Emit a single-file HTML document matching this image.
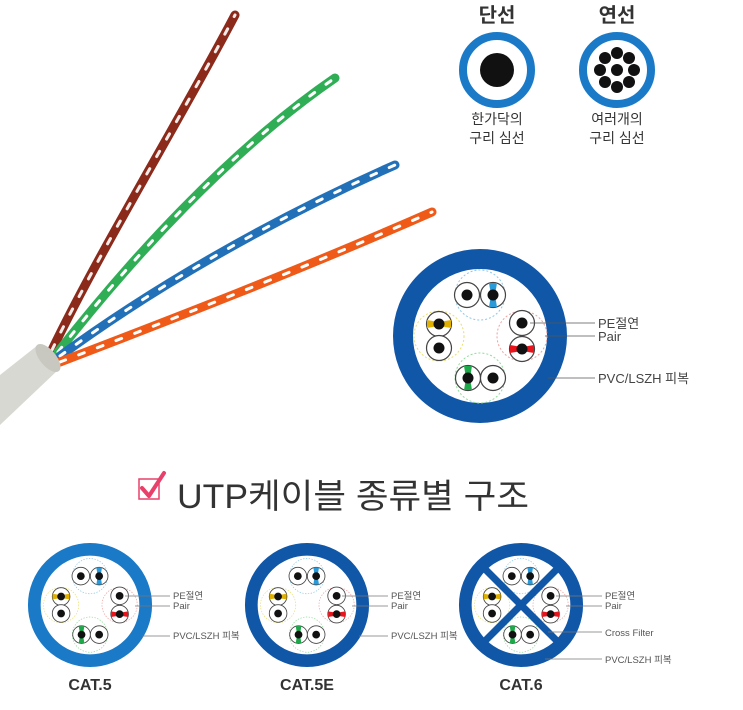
<!DOCTYPE html>
<html><head><meta charset="utf-8"><style>
html,body{margin:0;padding:0;background:#fff;}
svg{display:block;font-family:"Liberation Sans","Noto Sans CJK KR",sans-serif;}
</style></head><body>
<svg width="743" height="710" viewBox="0 0 743 710" xmlns="http://www.w3.org/2000/svg">
<defs>
  <g id="pairs">
    <circle cx="0" cy="-41" r="25" fill="none" stroke="#8cc8ea" stroke-width="1" stroke-dasharray="2,2"/>
    <circle cx="-13" cy="-41" r="12.5" fill="#fff" stroke="#444" stroke-width="1.2"/>
    <circle cx="13" cy="-41" r="12.5" fill="#fff" stroke="#444" stroke-width="1.2"/>
    <path d="M9,-53 L17,-53 L15,-41 L17,-29 L9,-29 L11,-41Z" fill="#2a9ad8"/>
    <circle cx="-13" cy="-41" r="5.5" fill="#111"/>
    <circle cx="13" cy="-41" r="5.5" fill="#111"/>
    <circle cx="-41" cy="0" r="25" fill="none" stroke="#e8df70" stroke-width="1" stroke-dasharray="2,2"/>
    <circle cx="-41" cy="-12" r="12.5" fill="#fff" stroke="#444" stroke-width="1.2"/>
    <circle cx="-41" cy="12" r="12.5" fill="#fff" stroke="#444" stroke-width="1.2"/>
    <path d="M-53,-16 L-41,-14 L-29,-16 L-29,-8 L-41,-10 L-53,-8Z" fill="#e0b000"/>
    <circle cx="-41" cy="-12" r="5.5" fill="#111"/>
    <circle cx="-41" cy="12" r="5.5" fill="#111"/>
    <circle cx="42" cy="0" r="25" fill="none" stroke="#f0a0a0" stroke-width="1" stroke-dasharray="2,2"/>
    <circle cx="42" cy="-13" r="12.5" fill="#fff" stroke="#444" stroke-width="1.2"/>
    <circle cx="42" cy="13" r="12.5" fill="#fff" stroke="#444" stroke-width="1.2"/>
    <path d="M30,9 L42,11 L54,9 L54,17 L42,15 L30,17Z" fill="#e8141c"/>
    <circle cx="42" cy="-13" r="5.5" fill="#111"/>
    <circle cx="42" cy="13" r="5.5" fill="#111"/>
    <circle cx="0" cy="42" r="25" fill="none" stroke="#8fdc9a" stroke-width="1" stroke-dasharray="2,2"/>
    <circle cx="-12" cy="42" r="12.5" fill="#fff" stroke="#444" stroke-width="1.2"/>
    <circle cx="13" cy="42" r="12.5" fill="#fff" stroke="#444" stroke-width="1.2"/>
    <path d="M-16,30 L-8,30 L-10,42 L-8,54 L-16,54 L-14,42Z" fill="#1da84a"/>
    <circle cx="-12" cy="42" r="5.5" fill="#111"/>
    <circle cx="13" cy="42" r="5.5" fill="#111"/>
  </g>
</defs>

<g fill="none" stroke-linecap="round">
  <path d="M52,350 C100,250 180,120 235,15" stroke="#8b2a1a" stroke-width="9"/>
  <path d="M52,350 C100,250 180,120 235,15" stroke="#fff" stroke-width="3" stroke-dasharray="6,14" opacity="0.9"/>
  <path d="M58,352 C130,260 230,150 335,78" stroke="#2fae55" stroke-width="9"/>
  <path d="M58,352 C130,260 230,150 335,78" stroke="#fff" stroke-width="3" stroke-dasharray="6,14"/>
  <path d="M60,356 C150,290 270,220 395,165" stroke="#2271b8" stroke-width="9"/>
  <path d="M60,356 C150,290 270,220 395,165" stroke="#fff" stroke-width="3" stroke-dasharray="6,14"/>
  <path d="M60,362 C170,320 300,270 432,212" stroke="#f05a18" stroke-width="9"/>
  <path d="M60,362 C170,320 300,270 432,212" stroke="#fff" stroke-width="3" stroke-dasharray="6,14"/>
</g>
<path d="M0,375 L38,345 L58,370 L0,425 Z" fill="#d8d8d2"/>
<ellipse cx="48" cy="358" rx="8" ry="17" transform="rotate(-40 48 358)" fill="#c8c8c0"/>

<g fill="#333" text-anchor="middle">
  <text x="497" y="22" font-size="20" font-weight="bold">단선</text>
  <text x="617" y="22" font-size="20" font-weight="bold">연선</text>
  <text x="497" y="124" font-size="14">한가닥의</text>
  <text x="497" y="143" font-size="14">구리 심선</text>
  <text x="617" y="124" font-size="14">여러개의</text>
  <text x="617" y="143" font-size="14">구리 심선</text>
</g>
<circle cx="497" cy="70" r="34" fill="#fff" stroke="#1a7ac7" stroke-width="8"/>
<circle cx="497" cy="70" r="17" fill="#111"/>
<circle cx="617" cy="70" r="34" fill="#fff" stroke="#1a7ac7" stroke-width="8"/>
<g fill="#111">
  <circle cx="617" cy="70" r="6"/>
  <circle cx="617" cy="53" r="6"/><circle cx="617" cy="87" r="6"/>
  <circle cx="600" cy="70" r="6"/><circle cx="634" cy="70" r="6"/>
  <circle cx="605" cy="58" r="6"/><circle cx="629" cy="58" r="6"/>
  <circle cx="605" cy="82" r="6"/><circle cx="629" cy="82" r="6"/>
</g>

<g transform="translate(480,336)">
  <circle r="77" fill="#fff" stroke="#1157a8" stroke-width="20"/>
  <use href="#pairs"/>
</g>
<g stroke="#555" stroke-width="0.8">
  <line x1="530" y1="323" x2="595" y2="323"/>
  <line x1="545" y1="336" x2="595" y2="336"/>
  <line x1="548" y1="378" x2="595" y2="378"/>
</g>
<g font-size="13" fill="#444">
  <text x="598" y="328">PE절연</text>
  <text x="598" y="341">Pair</text>
  <text x="598" y="383">PVC/LSZH 피복</text>
</g>

<rect x="139" y="479" width="20" height="20" fill="none" stroke="#e8406a" stroke-width="1.5"/>
<path d="M142,488 L149,496 L164,473" fill="none" stroke="#e8406a" stroke-width="4" stroke-linecap="round" stroke-linejoin="round"/>
<text x="177" y="508" font-size="34" fill="#333" textLength="352" lengthAdjust="spacingAndGlyphs">UTP케이블 종류별 구조</text>

<g transform="translate(90,605) scale(0.705)">
  <circle r="79" fill="#fff" stroke="#1a7ac7" stroke-width="18"/>
  <use href="#pairs"/>
</g>
<g transform="translate(307,605) scale(0.705)">
  <circle r="79" fill="#fff" stroke="#1157a8" stroke-width="18"/>
  <use href="#pairs"/>
</g>
<g transform="translate(521,605) scale(0.705)">
  <circle r="79" fill="#fff" stroke="#1157a8" stroke-width="18"/>
  <use href="#pairs"/>
  <line x1="-60" y1="-60" x2="60" y2="60" stroke="#1157a8" stroke-width="10"/>
  <line x1="60" y1="-60" x2="-60" y2="60" stroke="#1157a8" stroke-width="10"/>
</g>

<g stroke="#777" stroke-width="0.7">
  <line x1="125" y1="596" x2="170" y2="596"/>
  <line x1="135" y1="606" x2="170" y2="606"/>
  <line x1="142" y1="636" x2="170" y2="636"/>
  <line x1="342" y1="596" x2="388" y2="596"/>
  <line x1="352" y1="606" x2="388" y2="606"/>
  <line x1="359" y1="636" x2="388" y2="636"/>
  <line x1="556" y1="596" x2="602" y2="596"/>
  <line x1="566" y1="606" x2="602" y2="606"/>
  <line x1="548" y1="632" x2="602" y2="632"/>
  <line x1="545" y1="659" x2="602" y2="659"/>
</g>
<g font-size="9.5" fill="#555">
  <text x="173" y="599">PE절연</text>
  <text x="173" y="609">Pair</text>
  <text x="173" y="639">PVC/LSZH 피복</text>
  <text x="391" y="599">PE절연</text>
  <text x="391" y="609">Pair</text>
  <text x="391" y="639">PVC/LSZH 피복</text>
  <text x="605" y="599">PE절연</text>
  <text x="605" y="609">Pair</text>
  <text x="605" y="636">Cross Filter</text>
  <text x="605" y="663">PVC/LSZH 피복</text>
</g>
<g font-size="16" font-weight="bold" fill="#333" text-anchor="middle">
  <text x="90" y="690">CAT.5</text>
  <text x="307" y="690">CAT.5E</text>
  <text x="521" y="690">CAT.6</text>
</g>
</svg>
</body></html>
